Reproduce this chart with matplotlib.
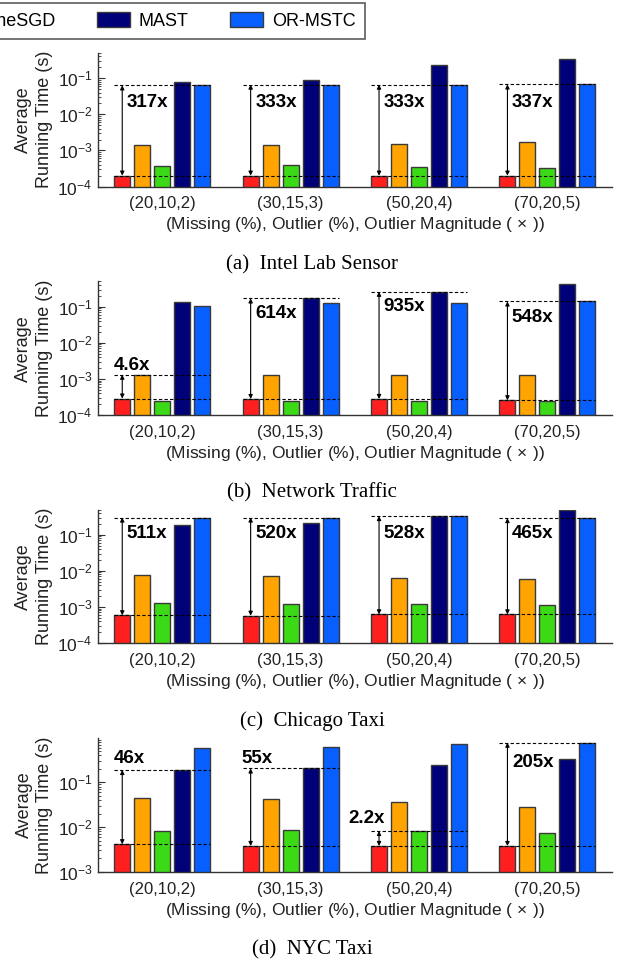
import numpy as np
import matplotlib
matplotlib.use("Agg")
from matplotlib import pyplot as plt
from matplotlib.patches import Patch

plt.rcParams['font.family'] = ['Liberation Sans', 'DejaVu Sans']
plt.rcParams['mathtext.fontset'] = 'custom'
plt.rcParams['mathtext.rm'] = 'Liberation Sans'
plt.rcParams['mathtext.it'] = 'Liberation Sans:italic'
plt.rcParams['mathtext.bf'] = 'Liberation Sans:bold'

groups = ['(20,10,2)', '(30,15,3)', '(50,20,4)', '(70,20,5)']
methods = ['SOFIA', 'OLSTEC', 'OnlineSGD', 'MAST', 'OR-MSTC']
colors = ['#ff1f1f', '#ffa400', '#3cd917', '#000078', '#075fff']

# running times (s), one row per method
intel_times = [
    [2.0e-4, 2.0e-4, 2.0e-4, 2.0e-4],
    [1.40e-3, 1.40e-3, 1.46e-3, 1.66e-3],
    [3.7e-4, 3.9e-4, 3.55e-4, 3.3e-4],
    [8.0e-2, 9.1e-2, 0.24, 0.35],
    [6.34e-2, 6.66e-2, 6.66e-2, 6.74e-2],
]
network_times = [
    [2.85e-4, 2.77e-4, 2.78e-4, 2.55e-4],
    [1.31e-3, 1.30e-3, 1.28e-3, 1.26e-3],
    [2.44e-4, 2.4e-4, 2.4e-4, 2.4e-4],
    [0.132, 0.17, 0.26, 0.44],
    [0.107, 0.124, 0.129, 0.14],
]
chicago_times = [
    [5.85e-4, 5.7e-4, 6.2e-4, 6.2e-4],
    [7.65e-3, 7.3e-3, 6.5e-3, 6.0e-3],
    [1.28e-3, 1.23e-3, 1.2e-3, 1.13e-3],
    [0.182, 0.215, 0.32, 0.48],
    [0.30, 0.30, 0.33, 0.29],
]
nyc_times = [
    [4.13e-3, 3.78e-3, 3.78e-3, 3.78e-3],
    [4.37e-2, 4.15e-2, 3.68e-2, 2.8e-2],
    [8.3e-3, 8.65e-3, 8.2e-3, 7.3e-3],
    [0.19, 0.205, 0.25, 0.336],
    [0.59, 0.63, 0.73, 0.775],
]

# speed-up labels and which method the upper dashed line refers to
intel_speedup = ['317x', '333x', '333x', '337x']
intel_ref = [4, 4, 4, 4]
network_speedup = ['4.6x', '614x', '935x', '548x']
network_ref = [1, 3, 3, 4]
chicago_speedup = ['511x', '520x', '528x', '465x']
chicago_ref = [4, 4, 4, 4]
nyc_speedup = ['46x', '55x', '2.2x', '205x']
nyc_ref = [3, 3, 2, 4]

captions = ['(a)  Intel Lab Sensor', '(b)  Network Traffic', '(c)  Chicago Taxi', '(d)  NYC Taxi']

# ---- layout of the speedup texts (y position, x offset from red bar centre)
intel_txt = [(0.0214, 0.035)] * 4
network_txt = [(2.4e-3, -0.07), (0.066, 0.035), (0.10, 0.035), (0.05, 0.035)]
chicago_txt = [(0.107, 0.035)] * 4
nyc_txt = [(0.35, -0.07), (0.35, -0.07), (0.0158, -0.24), (0.28, 0.035)]

panels = [
    (intel_times, intel_speedup, intel_ref, intel_txt, (1e-4, 0.5)),
    (network_times, network_speedup, network_ref, network_txt, (1e-4, 0.5)),
    (chicago_times, chicago_speedup, chicago_ref, chicago_txt, (1e-4, 0.5)),
    (nyc_times, nyc_speedup, nyc_ref, nyc_txt, (1e-3, 0.97)),
]

W, H = 618, 961
fig = plt.figure(figsize=(W / 100, H / 100), dpi=100)

axis_col = '#333333'
pitch = 0.1556
width = 0.1245
x = np.arange(len(groups))
tops = [53, 281.5, 509.5, 738.3]
ax_h = 133.5

for p, (times, speedup, ref, txt, ylim) in enumerate(panels):
    top = tops[p]
    ax = fig.add_axes([98 / W, 1 - (top + ax_h) / H, 513.6 / W, ax_h / H])
    for m in range(len(methods)):
        ax.bar(x + (m - 2) * pitch, times[m], width, color=colors[m],
               edgecolor='#3a3a3a', linewidth=1, zorder=2)
    ax.set_yscale('log')
    ax.set_ylim(*ylim)
    ax.set_xlim(-0.5, 3.5)

    for g in range(len(groups)):
        lo = times[0][g]
        hi = times[ref[g]][g]
        xl = x[g] - 2 * pitch - width / 2
        xr = x[g] + 2 * pitch + width / 2
        ax.plot([xl, xr], [lo, lo], 'k--', lw=0.8, dashes=(3, 2), zorder=3)
        ax.plot([xl, xr], [hi, hi], 'k--', lw=0.8, dashes=(3, 2), zorder=3)
        xa = x[g] - 2 * pitch
        ax.annotate('', xy=(xa, hi), xytext=(xa, lo),
                    arrowprops=dict(arrowstyle='<|-|>', lw=0.8, color='black',
                                    mutation_scale=6, shrinkA=0, shrinkB=0),
                    zorder=4)
        ty, dx = txt[g]
        ax.text(xa + dx, ty, speedup[g], ha='left', va='center',
                fontsize=13.5, fontweight='bold', zorder=5)

    for s in ['top', 'right']:
        ax.spines[s].set_visible(False)
    for s in ['left', 'bottom']:
        ax.spines[s].set_color(axis_col)
        ax.spines[s].set_linewidth(1)
    ax.set_xticks(x)
    ax.set_xticklabels(groups)
    ax.tick_params(axis='x', direction='in', length=4, color=axis_col,
                   labelsize=12, labelcolor='#222222', pad=7)
    ax.tick_params(axis='y', which='major', direction='in', length=5,
                   color=axis_col, labelsize=12.5, labelcolor='#222222', pad=4)
    ax.tick_params(axis='y', which='minor', direction='in', length=2.5,
                   color=axis_col)
    ax.set_ylabel('Average\nRunning Time (s)', fontsize=13, color='#222222',
                  labelpad=3, linespacing=1.3)
    ax.set_xlabel('(Missing (%), Outlier (%), Outlier Magnitude ($\\,\\times\\,$))',
                  fontsize=12.5, color='#222222', labelpad=3)

    fig.text(312 / W, 1 - (top + ax_h + 78) / H, captions[p], ha='center',
             va='center', fontsize=15, family='Liberation Serif')

handles = [Patch(facecolor=c, edgecolor='#3a3a3a', linewidth=1) for c in colors]
leg = fig.legend(handles, methods, loc='upper right', ncol=5,
                 bbox_to_anchor=(365 / W, 1 - 3 / H), bbox_transform=fig.transFigure,
                 fontsize=13, frameon=True, fancybox=False, edgecolor='#333333',
                 handlelength=1.83, handleheight=0.9, handletextpad=0.5,
                 columnspacing=2.3, borderaxespad=0, borderpad=0.5)
leg.get_frame().set_linewidth(1.2)

fig.savefig('out.png', dpi=100)
